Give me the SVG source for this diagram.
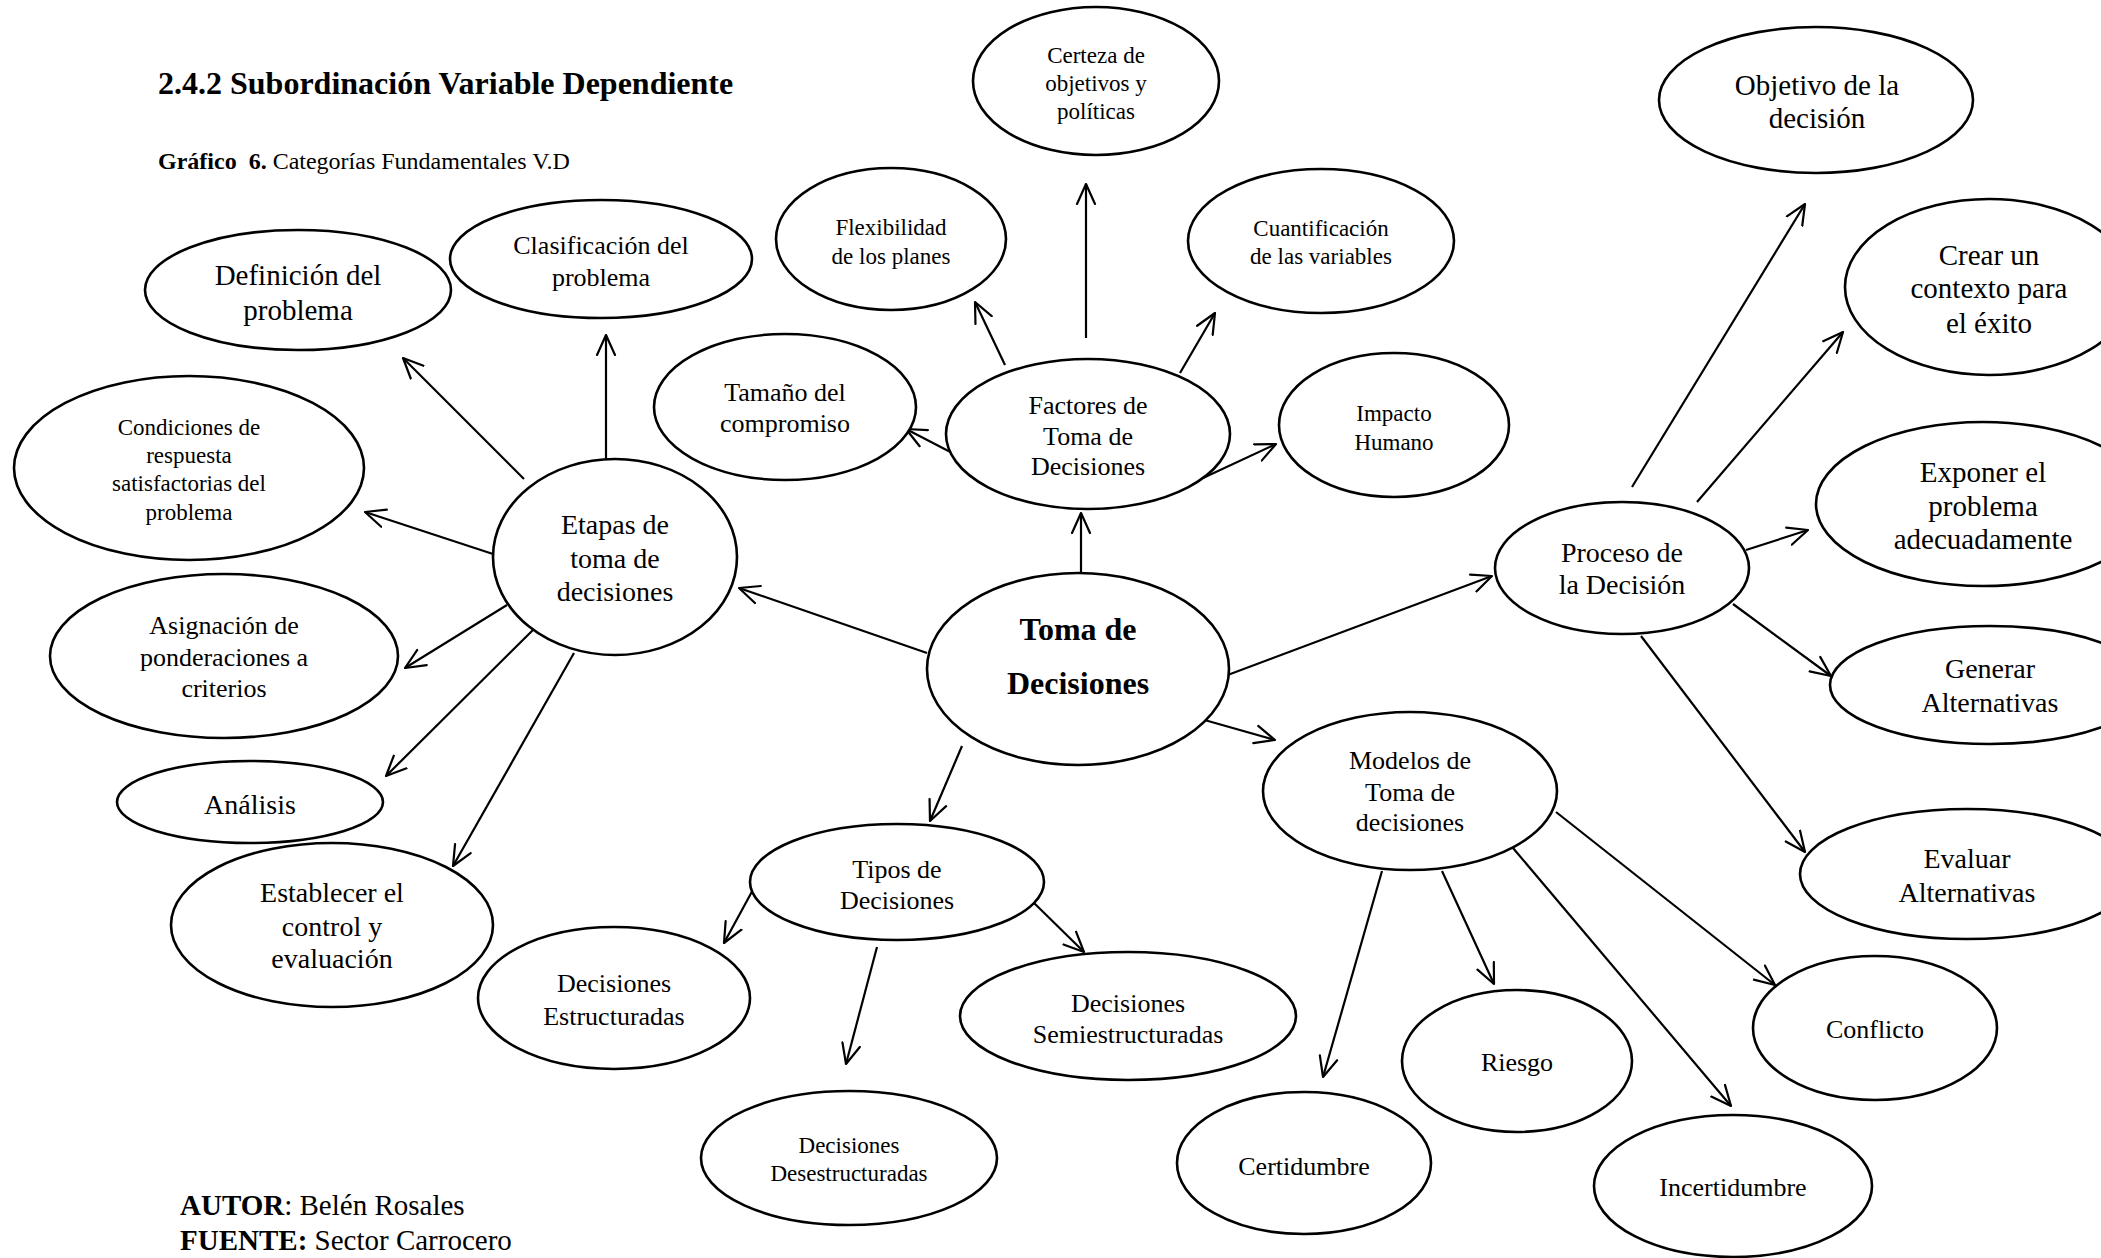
<svg xmlns="http://www.w3.org/2000/svg" width="2101" height="1258" viewBox="0 0 2101 1258">
<style>
.n ellipse{fill:#fff;stroke:#000;stroke-width:2.6}
text{font-family:"Liberation Serif","Times New Roman",serif;fill:#000;text-anchor:middle}
.s23{font-size:23px}.s26{font-size:26px}.s28{font-size:28px}.s29{font-size:29px}
.b{font-weight:bold}
#connectors line{stroke:#000;stroke-width:2.2;marker-end:url(#ah)}
.hdr{text-anchor:start}
</style>
<defs>
<marker id="ah" viewBox="0 0 22 22" refX="21" refY="11" markerWidth="22" markerHeight="22" markerUnits="userSpaceOnUse" orient="auto">
<path d="M1,2 L21,11 L1,20" fill="none" stroke="#000" stroke-width="2.2" stroke-linejoin="round" stroke-linecap="round"/>
</marker>
</defs>
<rect width="2101" height="1258" fill="#fff"/>
<text class="hdr b" x="158" y="94" style="font-size:32px">2.4.2 Subordinación Variable Dependiente</text>
<text class="hdr" x="158" y="169" style="font-size:24px" xml:space="preserve"><tspan class="b">Gráfico  6.</tspan> Categorías Fundamentales V.D</text>
<text class="hdr" x="180" y="1215" style="font-size:29px"><tspan class="b">AUTOR</tspan>: Belén Rosales</text>
<text class="hdr" x="180" y="1250" style="font-size:29px"><tspan class="b">FUENTE:</tspan> Sector Carrocero</text>
<g id="connectors">
<line x1="524" y1="479" x2="403" y2="358"/>
<line x1="606" y1="459" x2="606" y2="335"/>
<line x1="493" y1="554" x2="365" y2="512"/>
<line x1="507" y1="605" x2="405" y2="668"/>
<line x1="537" y1="626" x2="386" y2="776"/>
<line x1="574" y1="653" x2="453" y2="866"/>
<line x1="927" y1="653" x2="739" y2="588"/>
<line x1="1081" y1="572" x2="1081" y2="513"/>
<line x1="1225" y1="676" x2="1492" y2="576"/>
<line x1="1201" y1="719" x2="1275" y2="740"/>
<line x1="962" y1="746" x2="930" y2="821"/>
<line x1="960" y1="457" x2="906" y2="429"/>
<line x1="1005" y1="365" x2="975" y2="302"/>
<line x1="1086" y1="338" x2="1086" y2="184"/>
<line x1="1180" y1="373" x2="1215" y2="313"/>
<line x1="1203" y1="478" x2="1276" y2="444"/>
<line x1="755" y1="886" x2="724" y2="943"/>
<line x1="877" y1="947" x2="846" y2="1064"/>
<line x1="1033" y1="902" x2="1084" y2="952"/>
<line x1="1382" y1="871" x2="1323" y2="1077"/>
<line x1="1442" y1="871" x2="1494" y2="984"/>
<line x1="1513" y1="848" x2="1731" y2="1106"/>
<line x1="1556" y1="812" x2="1775" y2="985"/>
<line x1="1632" y1="487" x2="1805" y2="204"/>
<line x1="1697" y1="502" x2="1843" y2="332"/>
<line x1="1746" y1="550" x2="1808" y2="530"/>
<line x1="1733" y1="604" x2="1831" y2="676"/>
<line x1="1641" y1="636" x2="1805" y2="852"/>
</g>
<g id="n-definicion" class="n"><ellipse cx="298" cy="290" rx="153" ry="60"/><text class="s29" x="298" y="285">Definición del</text><text class="s29" x="298" y="320">problema</text></g>
<g id="n-clasificacion" class="n"><ellipse cx="601" cy="259" rx="151" ry="59"/><text class="s26" x="601" y="254">Clasificación del</text><text class="s26" x="601" y="286">problema</text></g>
<g id="n-condiciones" class="n"><ellipse cx="189" cy="468" rx="175" ry="92"/><text class="s23" x="189" y="435">Condiciones de</text><text class="s23" x="189" y="463">respuesta</text><text class="s23" x="189" y="491">satisfactorias del</text><text class="s23" x="189" y="520">problema</text></g>
<g id="n-etapas" class="n"><ellipse cx="615" cy="557" rx="122" ry="98"/><text class="s28" x="615" y="534">Etapas de</text><text class="s28" x="615" y="568">toma de</text><text class="s28" x="615" y="601">decisiones</text></g>
<g id="n-asignacion" class="n"><ellipse cx="224" cy="656" rx="174" ry="82"/><text class="s26" x="224" y="634">Asignación de</text><text class="s26" x="224" y="666">ponderaciones a</text><text class="s26" x="224" y="697">criterios</text></g>
<g id="n-analisis" class="n"><ellipse cx="250" cy="802" rx="133" ry="41"/><text class="s28" x="250" y="814">Análisis</text></g>
<g id="n-establecer" class="n"><ellipse cx="332" cy="925" rx="161" ry="82"/><text class="s28" x="332" y="902">Establecer el</text><text class="s28" x="332" y="936">control y</text><text class="s28" x="332" y="968">evaluación</text></g>
<g id="n-flexibilidad" class="n"><ellipse cx="891" cy="239" rx="115" ry="71"/><text class="s23" x="891" y="235">Flexibilidad</text><text class="s23" x="891" y="264">de los planes</text></g>
<g id="n-certeza" class="n"><ellipse cx="1096" cy="81" rx="123" ry="74"/><text class="s23" x="1096" y="63">Certeza de</text><text class="s23" x="1096" y="91">objetivos y</text><text class="s23" x="1096" y="119">políticas</text></g>
<g id="n-cuantificacion" class="n"><ellipse cx="1321" cy="241" rx="133" ry="72"/><text class="s23" x="1321" y="236">Cuantificación</text><text class="s23" x="1321" y="264">de las variables</text></g>
<g id="n-tamano" class="n"><ellipse cx="785" cy="407" rx="131" ry="73"/><text class="s26" x="785" y="401">Tamaño del</text><text class="s26" x="785" y="432">compromiso</text></g>
<g id="n-factores" class="n"><ellipse cx="1088" cy="434" rx="142" ry="75"/><text class="s26" x="1088" y="414">Factores de</text><text class="s26" x="1088" y="445">Toma de</text><text class="s26" x="1088" y="475">Decisiones</text></g>
<g id="n-impacto" class="n"><ellipse cx="1394" cy="425" rx="115" ry="72"/><text class="s23" x="1394" y="421">Impacto</text><text class="s23" x="1394" y="450">Humano</text></g>
<g id="n-toma" class="n"><ellipse cx="1078" cy="669" rx="151" ry="96"/><text class="b" style="font-size:32px" x="1078" y="640">Toma de</text><text class="b" style="font-size:32px" x="1078" y="694">Decisiones</text></g>
<g id="n-tipos" class="n"><ellipse cx="897" cy="882" rx="147" ry="58"/><text class="s26" x="897" y="878">Tipos de</text><text class="s26" x="897" y="909">Decisiones</text></g>
<g id="n-estructuradas" class="n"><ellipse cx="614" cy="998" rx="136" ry="71"/><text class="s26" x="614" y="992">Decisiones</text><text class="s26" x="614" y="1025">Estructuradas</text></g>
<g id="n-semi" class="n"><ellipse cx="1128" cy="1016" rx="168" ry="64"/><text class="s26" x="1128" y="1012">Decisiones</text><text class="s26" x="1128" y="1043">Semiestructuradas</text></g>
<g id="n-desestructuradas" class="n"><ellipse cx="849" cy="1158" rx="148" ry="67"/><text class="s23" x="849" y="1153">Decisiones</text><text class="s23" x="849" y="1181">Desestructuradas</text></g>
<g id="n-modelos" class="n"><ellipse cx="1410" cy="791" rx="147" ry="79"/><text class="s26" x="1410" y="769">Modelos de</text><text class="s26" x="1410" y="801">Toma de</text><text class="s26" x="1410" y="831">decisiones</text></g>
<g id="n-certidumbre" class="n"><ellipse cx="1304" cy="1163" rx="127" ry="71"/><text class="s26" x="1304" y="1175">Certidumbre</text></g>
<g id="n-riesgo" class="n"><ellipse cx="1517" cy="1061" rx="115" ry="71"/><text class="s26" x="1517" y="1071">Riesgo</text></g>
<g id="n-incertidumbre" class="n"><ellipse cx="1733" cy="1186" rx="139" ry="71"/><text class="s26" x="1733" y="1196">Incertidumbre</text></g>
<g id="n-conflicto" class="n"><ellipse cx="1875" cy="1028" rx="122" ry="72"/><text class="s26" x="1875" y="1038">Conflicto</text></g>
<g id="n-proceso" class="n"><ellipse cx="1622" cy="568" rx="127" ry="66"/><text class="s28" x="1622" y="562">Proceso de</text><text class="s28" x="1622" y="594">la Decisión</text></g>
<g id="n-objetivo" class="n"><ellipse cx="1816" cy="100" rx="157" ry="73"/><text class="s29" x="1817" y="95">Objetivo de la</text><text class="s29" x="1817" y="128">decisión</text></g>
<g id="n-crear" class="n"><ellipse cx="1989" cy="287" rx="144" ry="88"/><text class="s29" x="1989" y="265">Crear un</text><text class="s29" x="1989" y="298">contexto para</text><text class="s29" x="1989" y="333">el éxito</text></g>
<g id="n-exponer" class="n"><ellipse cx="1983" cy="504" rx="167" ry="82"/><text class="s29" x="1983" y="482">Exponer el</text><text class="s29" x="1983" y="516">problema</text><text class="s29" x="1983" y="549">adecuadamente</text></g>
<g id="n-generar" class="n"><ellipse cx="1990" cy="685" rx="160" ry="59"/><text class="s28" x="1990" y="678">Generar</text><text class="s28" x="1990" y="712">Alternativas</text></g>
<g id="n-evaluar" class="n"><ellipse cx="1967" cy="874" rx="167" ry="65"/><text class="s28" x="1967" y="868">Evaluar</text><text class="s28" x="1967" y="902">Alternativas</text></g>
</svg>
